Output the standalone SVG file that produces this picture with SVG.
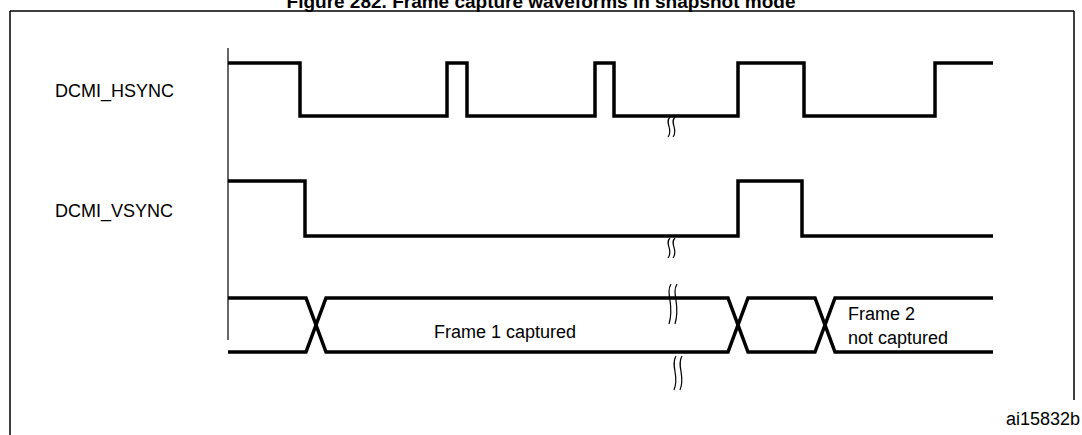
<svg xmlns="http://www.w3.org/2000/svg" width="1082" height="435" viewBox="0 0 1082 435">
<style>
.w{fill:none;stroke:#000;stroke-width:3.5;stroke-linejoin:miter}
.b{fill:none;stroke:#000;stroke-width:1.2}
text{font-family:"Liberation Sans",Arial,sans-serif;font-size:18px;fill:#000}
</style>
<rect width="1082" height="435" fill="#fff"/>
<text x="541" y="8" text-anchor="middle" style="font-weight:bold;font-size:19px">Figure 282. Frame capture waveforms in snapshot mode</text>
<path d="M10 11H1074M10 11V435M1074 11V400" fill="none" stroke="#000" stroke-width="1.5"/>
<line x1="228" y1="48" x2="228" y2="340" stroke="#000" stroke-width="1.2"/>
<g id="hsync"><text x="55" y="97">DCMI_HSYNC</text>
<path class="w" d="M228 63H300V116H447V63H467V116H595V63H614V116H738V63H804V116H935V63H993"/></g>
<g id="vsync"><text x="55" y="217">DCMI_VSYNC</text>
<path class="w" d="M228 181H305V236H738V181H802V236H993"/></g>
<g id="bus">
<path class="w" d="M228 298H306L326 352H728L748 298H815L835 352H993"/>
<path class="w" d="M228 352H306L326 298H728L748 352H815L835 298H993"/>
<text x="505" y="338" text-anchor="middle">Frame 1 captured</text>
<text x="848" y="320">Frame 2</text>
<text x="848" y="344">not captured</text></g>
<g id="connectors">
<path class="b" d="M670 117c-6 6 4 12 -2 20M675 117c-6 6 4 12 -2 20"/>
<path class="b" d="M670 238c-6 6 4 12 -2 20M675 238c-6 6 4 12 -2 20"/>
<path class="b" d="M671 284c-6 10 4 20 -2 40M677 284c-6 10 4 20 -2 40"/>
<path class="b" d="M676 356c-6 10 4 20 -2 34M682 356c-6 10 4 20 -2 34"/>
</g>
<text x="1080" y="425" text-anchor="end">ai15832b</text>
</svg>
